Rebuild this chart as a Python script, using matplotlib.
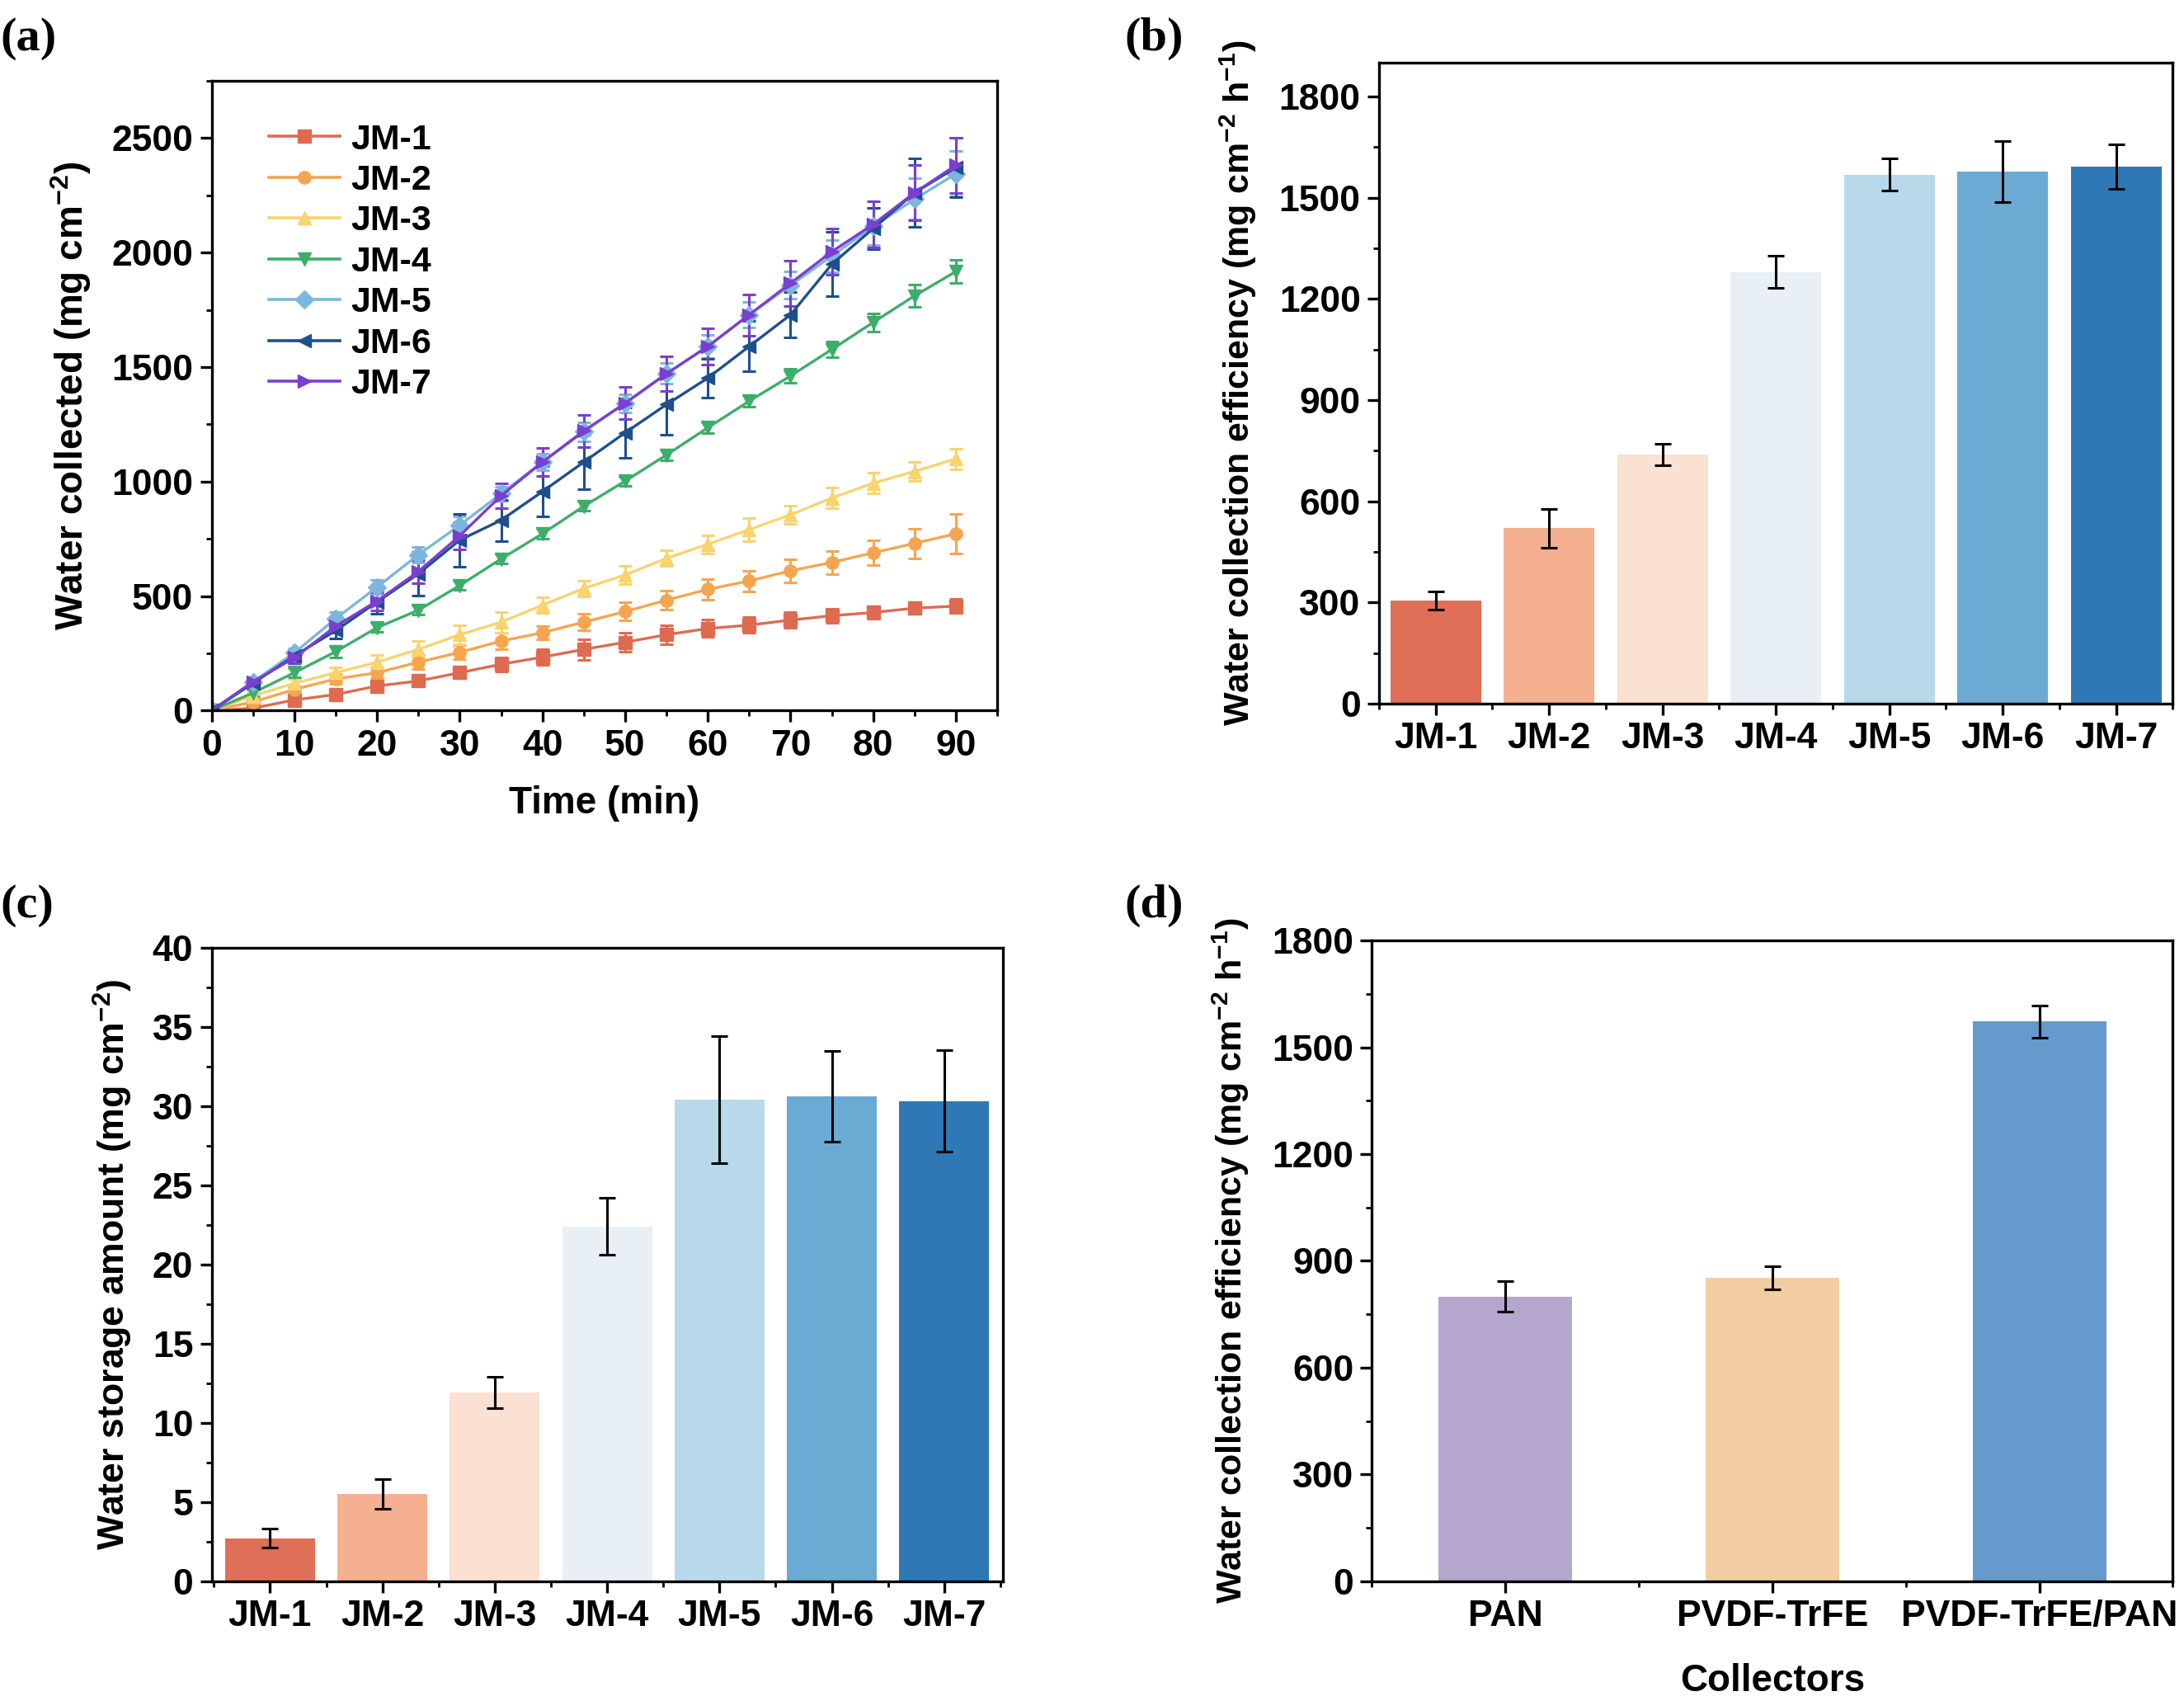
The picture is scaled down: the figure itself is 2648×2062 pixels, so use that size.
import matplotlib
matplotlib.use("Agg")
import matplotlib.pyplot as plt
from matplotlib.lines import Line2D
from matplotlib.ticker import MultipleLocator

plt.rcParams['font.family'] = ['Liberation Sans', 'DejaVu Sans']
plt.rcParams['font.weight'] = 'bold'
plt.rcParams['mathtext.fontset'] = 'custom'
plt.rcParams['mathtext.rm'] = 'Liberation Sans:bold'
plt.rcParams['mathtext.bf'] = 'Liberation Sans:bold'
plt.rcParams['mathtext.default'] = 'bf'

# (a) water collected over time
time = [0, 5, 10, 15, 20, 25, 30, 35, 40, 45, 50, 55, 60, 65, 70, 75, 80, 85, 90]
jm1 = [0, 10, 46, 70, 107, 129, 165, 202, 233, 267, 298, 331, 358, 373, 395, 414, 428, 447, 456]
jm1_err = [0, 8, 12, 15, 18, 20, 25, 30, 35, 45, 40, 40, 38, 35, 35, 30, 28, 25, 30]
jm2 = [0, 37, 92, 138, 165, 211, 254, 303, 340, 386, 432, 482, 529, 566, 610, 647, 689, 730, 772]
jm2_err = [0, 10, 15, 20, 25, 30, 30, 35, 30, 35, 40, 40, 45, 45, 50, 50, 55, 65, 85]
jm3 = [0, 64, 119, 165, 211, 267, 331, 386, 460, 533, 592, 665, 726, 790, 855, 928, 993, 1044, 1099]
jm3_err = [0, 12, 20, 25, 30, 35, 40, 45, 35, 35, 40, 35, 40, 50, 40, 45, 45, 40, 45]
jm4 = [0, 77, 165, 257, 362, 438, 546, 662, 772, 892, 1002, 1116, 1235, 1351, 1461, 1577, 1695, 1811, 1917]
jm4_err = [0, 15, 20, 25, 20, 20, 20, 20, 20, 20, 20, 25, 25, 25, 30, 35, 40, 50, 50]
jm5 = [0, 125, 252, 401, 539, 680, 809, 947, 1085, 1217, 1342, 1471, 1590, 1728, 1857, 1985, 2114, 2233, 2344]
jm5_err = [0, 15, 20, 30, 30, 35, 40, 30, 35, 40, 40, 45, 50, 55, 60, 70, 80, 90, 100]
jm6 = [0, 119, 239, 349, 474, 597, 744, 831, 956, 1085, 1213, 1336, 1452, 1590, 1728, 1949, 2105, 2261, 2371]
jm6_err = [0, 20, 25, 35, 50, 95, 115, 90, 110, 120, 110, 130, 85, 110, 100, 140, 90, 150, 130]
jm7 = [0, 125, 230, 368, 478, 607, 763, 938, 1085, 1221, 1342, 1471, 1590, 1728, 1866, 2004, 2123, 2261, 2381]
jm7_err = [0, 20, 25, 30, 40, 50, 60, 55, 60, 70, 70, 75, 80, 90, 100, 100, 100, 120, 120]

samples = ['JM-1', 'JM-2', 'JM-3', 'JM-4', 'JM-5', 'JM-6', 'JM-7']
line_colors = ['#de6b4f', '#f5a54f', '#f8d36e', '#3dae6a', '#7db6dc', '#1d4f8f', '#7a3fd0']
markers = ['s', 'o', '^', 'v', 'D', '<', '>']

# (b) collection efficiency
eff = [305, 520, 738, 1280, 1568, 1578, 1592]
eff_err = [27, 58, 32, 48, 48, 90, 66]

# (c) water storage
storage = [2.7, 5.5, 11.9, 22.4, 30.4, 30.6, 30.3]
storage_err = [0.6, 0.95, 1.0, 1.8, 4.0, 2.85, 3.2]
bar_colors = ['#df6f57', '#f4b08f', '#fae1d2', '#e8eff5', '#b8d9e9', '#6babd3', '#2e79b5']

# (d) collectors
collectors = ['PAN', 'PVDF-TrFE', 'PVDF-TrFE/PAN']
coll_eff = [800, 852, 1572]
coll_err = [42, 33, 46]
coll_colors = ['#b4a6cc', '#f2cda1', '#6699cc']

fig = plt.figure(figsize=(26.48, 20.62), dpi=100)
ax_a = fig.add_axes([0.0969, 0.5823, 0.3597, 0.3702])
ax_b = fig.add_axes([0.6314, 0.5864, 0.3635, 0.3767])
ax_c = fig.add_axes([0.0969, 0.0704, 0.3622, 0.3726])
ax_d = fig.add_axes([0.6282, 0.0704, 0.3667, 0.3767])

fs = 32
ylab = 'Water collection efficiency (mg cm$^{-2}$ h$^{-1}$)'


def style(ax):
    for s in ax.spines.values():
        s.set_linewidth(2.4)
    ax.tick_params(which='major', direction='out', length=10, width=2.4,
                   labelsize=fs, top=False, right=False, pad=6)
    ax.tick_params(which='minor', direction='out', length=5, width=2.0,
                   top=False, right=False)
    for lab in ax.get_xticklabels() + ax.get_yticklabels():
        lab.set_fontweight('bold')


# panel a
series = [jm1, jm2, jm3, jm4, jm5, jm6, jm7]
errs = [jm1_err, jm2_err, jm3_err, jm4_err, jm5_err, jm6_err, jm7_err]
handles = []
for name, y, e, c, m in zip(samples, series, errs, line_colors, markers):
    ax_a.errorbar(time, y, yerr=e, color=c, marker=m, markersize=11, lw=2.4,
                  elinewidth=2.2, capsize=6, capthick=2.2)
    handles.append(Line2D([], [], color=c, marker=m, markersize=11, lw=2.6, label=name))
ax_a.set_xlim(0, 95)
ax_a.set_ylim(0, 2750)
ax_a.xaxis.set_major_locator(MultipleLocator(10))
ax_a.xaxis.set_minor_locator(MultipleLocator(5))
ax_a.yaxis.set_major_locator(MultipleLocator(500))
ax_a.yaxis.set_minor_locator(MultipleLocator(250))
ax_a.set_xlabel('Time (min)', fontsize=fs + 1, fontweight='bold', labelpad=20)
ax_a.set_ylabel('Water collected (mg cm$^{-2}$)', fontsize=fs + 1, fontweight='bold', labelpad=16)
leg = ax_a.legend(handles=handles, loc='upper left', frameon=False, fontsize=fs - 1,
                  handlelength=2.0, handletextpad=0.3, labelspacing=0.22,
                  borderaxespad=0.0, bbox_to_anchor=(0.055, 0.955))
for t in leg.get_texts():
    t.set_fontweight('bold')
style(ax_a)

# panel b
pos = range(1, len(samples) + 1)
ax_b.bar(pos, eff, width=0.8, color=bar_colors, yerr=eff_err, capsize=7,
         error_kw={'elinewidth': 2.2, 'capthick': 2.2, 'ecolor': 'black'})
ax_b.set_xlim(0.5, 7.5)
ax_b.set_ylim(0, 1900)
ax_b.set_xticks(list(pos))
ax_b.set_xticklabels(samples)
ax_b.xaxis.set_minor_locator(MultipleLocator(0.5))
ax_b.yaxis.set_major_locator(MultipleLocator(300))
ax_b.yaxis.set_minor_locator(MultipleLocator(150))
ax_b.set_ylabel(ylab, fontsize=fs - 1, fontweight='bold', labelpad=18)
style(ax_b)

# panel c
ax_c.bar(pos, storage, width=0.8, color=bar_colors, yerr=storage_err, capsize=7,
         error_kw={'elinewidth': 2.2, 'capthick': 2.2, 'ecolor': 'black'})
ax_c.set_xlim(0.48, 7.52)
ax_c.set_ylim(0, 40)
ax_c.set_xticks(list(pos))
ax_c.set_xticklabels(samples)
ax_c.xaxis.set_minor_locator(MultipleLocator(0.5))
ax_c.yaxis.set_major_locator(MultipleLocator(5))
ax_c.yaxis.set_minor_locator(MultipleLocator(2.5))
ax_c.set_ylabel('Water storage amount (mg cm$^{-2}$)', fontsize=fs, fontweight='bold', labelpad=16)
style(ax_c)

# panel d
cpos = range(1, len(collectors) + 1)
ax_d.bar(cpos, coll_eff, width=0.5, color=coll_colors, yerr=coll_err, capsize=7,
         error_kw={'elinewidth': 2.2, 'capthick': 2.2, 'ecolor': 'black'})
ax_d.set_xlim(0.5, 3.5)
ax_d.set_ylim(0, 1800)
ax_d.set_xticks(list(cpos))
ax_d.set_xticklabels(collectors)
ax_d.xaxis.set_minor_locator(MultipleLocator(0.5))
ax_d.yaxis.set_major_locator(MultipleLocator(300))
ax_d.yaxis.set_minor_locator(MultipleLocator(150))
ax_d.set_xlabel('Collectors', fontsize=fs + 1, fontweight='bold', labelpad=26)
ax_d.set_ylabel(ylab, fontsize=fs - 1, fontweight='bold', labelpad=18)
style(ax_d)

# panel letters
for txt, x, y in [('(a)', 0.0, 0.99), ('(b)', 0.515, 0.99),
                  ('(c)', 0.0, 0.48), ('(d)', 0.515, 0.48)]:
    fig.text(x, y, txt, fontsize=42, fontweight='bold', family='Liberation Serif',
             va='top', ha='left')

fig.savefig('out.png', dpi=100)
